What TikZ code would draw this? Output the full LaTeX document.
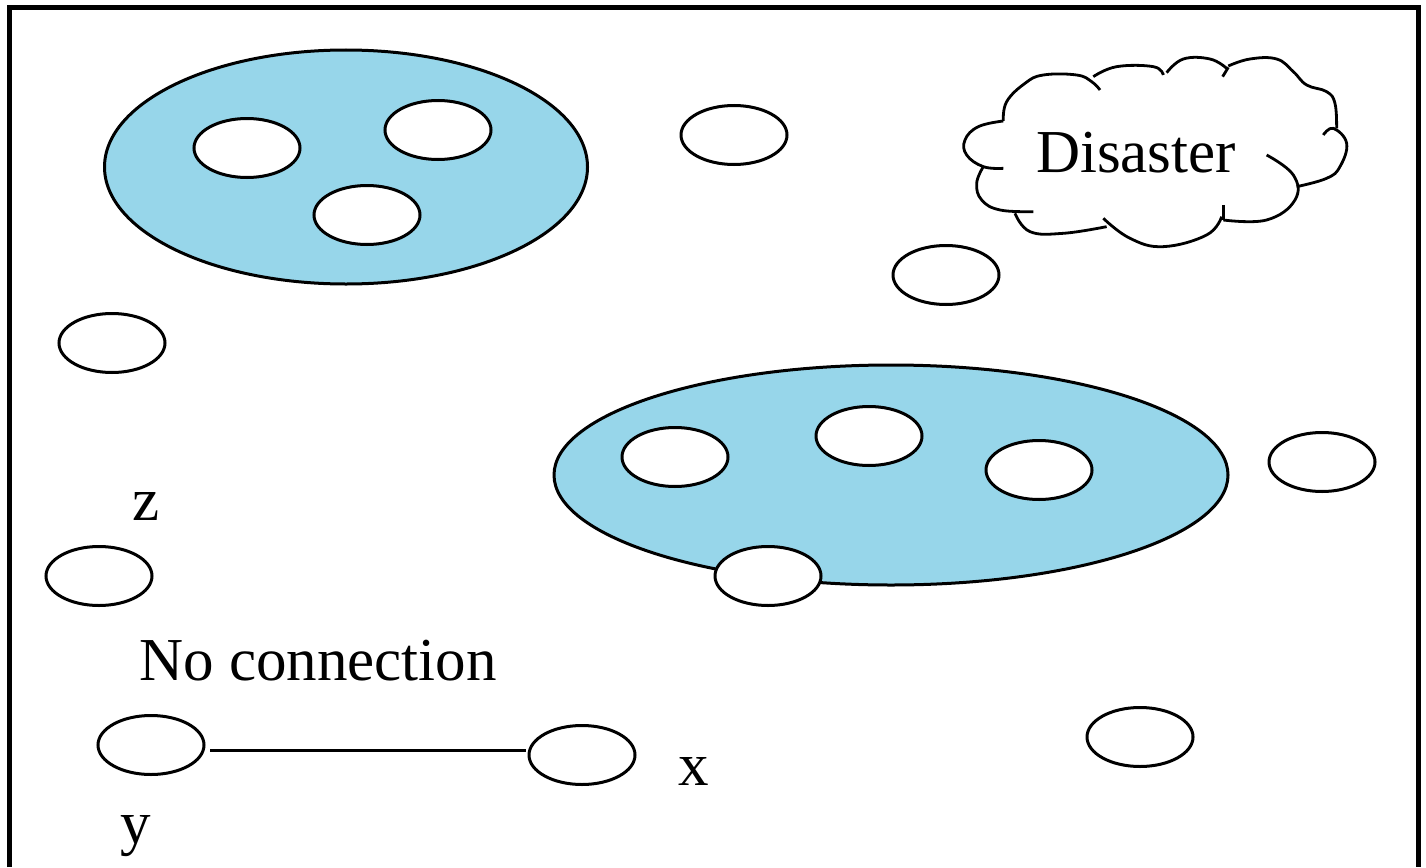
\documentclass[tikz,border=0pt]{standalone}
\usepackage{fontspec}
\setmainfont{Liberation Serif}
\usetikzlibrary{shapes.geometric}
\definecolor{lakeblue}{HTML}{97D6EA}
\tikzset{
  x=1pt,y=-1pt,
  bigset/.style={ellipse,draw=black,line width=3pt,fill=lakeblue,inner sep=0pt,outer sep=0pt},
  peer/.style={ellipse,draw=black,line width=3pt,fill=white,minimum width=106pt,minimum height=59pt,inner sep=0pt,outer sep=0pt},
  label/.style={font=\fontsize{61}{61}\selectfont,inner sep=0pt,text=black},
  frameline/.style={line width=5pt,draw=black},
  cloudline/.style={line width=2.8pt,draw=black,line join=round},
}
\begin{document}
\begin{tikzpicture}
\useasboundingbox (0,0) rectangle (1426,867);
\fill[white] (0,0) rectangle (1426,867);
\draw[frameline] (9,867) -- (9,8) -- (1418,8) -- (1418,867);
\node[bigset,minimum width=483pt,minimum height=234pt] (setA) at (346,167) {};
\node[bigset,minimum width=674pt,minimum height=220pt] (setB) at (891,475) {};
\node[peer] (a1) at (247,148) {};
\node[peer] (a2) at (438,130) {};
\node[peer] (a3) at (367,215) {};
\node[peer] (b1) at (675,457) {};
\node[peer] (b2) at (869,436) {};
\node[peer] (b3) at (1039,470) {};
\node[peer] (b4) at (768,576) {};
\node[peer] (p1) at (734,135) {};
\node[peer] (p2) at (946,275) {};
\node[peer] (p3) at (112,343) {};
\node[peer] (p4) at (1322,462) {};
\node[peer] (p5) at (99,576) {};
\node[peer] (p6) at (1140,737) {};
\node[peer] (ny) at (151,745) {};
\node[peer] (nx) at (582,755) {};
\draw[line width=3pt] ([xshift=6pt,yshift=-5pt]ny.east) -- ([xshift=-3pt,yshift=5pt]nx.west);
\begin{scope}[shift={(950,40)},x=0.3333pt,y=-0.3333pt]
\draw[cloudline] plot[smooth,tension=.7] coordinates {(160,385)(100,380)(50,345)(45,300)(85,260)(160,243)};
\draw[cloudline] plot[smooth,tension=.7] coordinates {(160,243)(170,185)(225,130)(280,105)(380,105)(425,125)(450,150)};
\draw[cloudline] plot[smooth,tension=.7] coordinates {(430,110)(500,80)(610,80)(640,105)};
\draw[cloudline] plot[smooth,tension=.7] coordinates {(650,98)(700,57)(780,57)(830,85)};
\draw[cloudline] (835,82) -- (818,110);
\draw[cloudline] plot[smooth,tension=.7] coordinates {(835,78)(900,57)(980,57)(1030,95)(1070,135)(1130,155)(1155,190)(1160,265)};
\draw[cloudline] plot[smooth,tension=.7] coordinates {(1120,285)(1150,265)(1190,310)(1170,380)(1130,415)(1040,440)};
\draw[cloudline] plot[smooth,tension=.7] coordinates {(950,345)(1030,405)(1035,480)(950,540)(820,540)};
\draw[cloudline] (820,495) -- (820,540);
\draw[cloudline] plot[smooth,tension=.7] coordinates {(815,530)(770,585)(640,620)(540,595)(460,535)};
\draw[cloudline] plot[smooth,tension=.7] coordinates {(470,560)(340,580)(240,575)(195,520)};
\draw[cloudline] plot[smooth,tension=.7] coordinates {(250,515)(150,510)(95,480)(80,430)(100,380)};
\end{scope}
\node[label] (disaster) at (1136,153) {Disaster};
\node[label] (noconn) at (318,661) {No connection};
\node[label,anchor=base] (lz) at (146,520) {z};
\node[label,anchor=base] (lx) at (694,785) {x};
\node[label,anchor=base] (ly) at (136,843) {y};
\end{tikzpicture}
\end{document}
